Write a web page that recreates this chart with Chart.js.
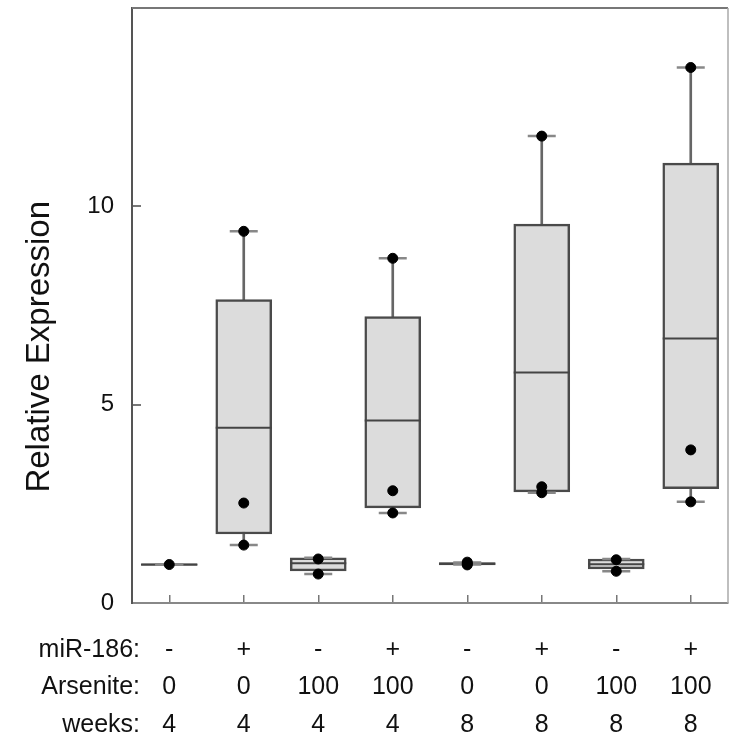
<!DOCTYPE html>
<html>
<head>
<meta charset="utf-8">
<script src="https://cdn.jsdelivr.net/npm/chart.js@4"></script>
<style>
  html, body { margin: 0; padding: 0; background: #fff; }
  #wrap { width: 737px; height: 750px; }
</style>
</head>
<body>
<div id="wrap"><canvas id="boxChart" width="737" height="750"></canvas></div>
<script>
// Relative expression box plots, 8 treatment groups
const miR186 = ['-', '+', '-', '+', '-', '+', '-', '+'];
const arsenite = ['0', '0', '100', '100', '0', '0', '100', '100'];
const weeks = ['4', '4', '4', '4', '8', '8', '8', '8'];
const rowHeaders = ['miR-186:', 'Arsenite:', 'weeks:'];
const yTicks = [0, 5, 10];

// box statistics
const q1 = [0.95, 1.74, 0.81, 2.40, 0.96, 2.80, 0.86, 2.88];
const q3 = [0.99, 7.65, 1.14, 7.22, 1.02, 9.55, 1.11, 11.09];
const median = [0.97, 4.42, 1.00, 4.60, 0.99, 5.81, 0.98, 6.67];
const whiskerLow = [0.97, 1.46, 0.73, 2.27, 0.97, 2.78, 0.80, 2.55];
const whiskerHigh = [0.97, 9.37, 1.14, 8.69, 1.02, 11.77, 1.11, 13.50];

// individual samples (black dots)
const pointsHigh = [0.97, 9.37, 1.11, 8.69, 1.03, 11.77, 1.09, 13.50];
const pointsMid = [null, 2.52, null, 2.83, 0.99, 2.93, null, 3.86];
const pointsLow = [null, 1.46, 0.73, 2.27, 0.96, 2.78, 0.80, 2.55];

const labels = miR186.map((m, i) => [m, arsenite[i], weeks[i]]);
const font = "'Liberation Sans', Arial, Helvetica, sans-serif";

// top/right frame lines and the row headers under the axis
const extras = {
  id: 'extras',
  afterDraw(chart) {
    const { ctx, chartArea: a } = chart;
    const x = chart.scales.x;
    ctx.save();
    ctx.lineWidth = 2;
    ctx.strokeStyle = '#777';
    ctx.beginPath();
    ctx.moveTo(a.left, a.top);
    ctx.lineTo(a.right, a.top);
    ctx.stroke();
    ctx.strokeStyle = '#aaa';
    ctx.lineWidth = 1.5;
    ctx.beginPath();
    ctx.moveTo(a.right, a.top);
    ctx.lineTo(a.right, a.bottom);
    ctx.stroke();
    ctx.fillStyle = '#111';
    ctx.font = '25px ' + font;
    ctx.textAlign = 'right';
    ctx.textBaseline = 'middle';
    rowHeaders.forEach((h, i) => {
      ctx.fillText(h, 140, x.top + 47 + i * 37.5);
    });
    ctx.restore();
  }
};

// drop the label overhang padding chart.js adds around the axes
const noPad = axis => {
  axis.paddingTop = 0;
  axis.paddingBottom = 0;
  axis.paddingLeft = 0;
  axis.paddingRight = 0;
};

const pointDs = (data, order) => ({
  type: 'line',
  data: data,
  showLine: false,
  pointStyle: 'circle',
  pointRadius: 5,
  pointBackgroundColor: '#000',
  pointBorderColor: '#000',
  order: order
});

const lineMark = (data, radius, color, width, order) => ({
  type: 'line',
  data: data,
  showLine: false,
  pointStyle: 'line',
  pointRadius: radius,
  pointBorderColor: color,
  pointBorderWidth: width,
  order: order
});

new Chart(document.getElementById('boxChart'), {
  type: 'bar',
  data: {
    labels: labels,
    datasets: [
      {
        type: 'bar',
        data: whiskerLow.map((l, i) => [l, whiskerHigh[i]]),
        backgroundColor: '#666',
        barThickness: 2,
        grouped: false,
        order: 9
      },
      {
        type: 'bar',
        data: q1.map((l, i) => [l, q3[i]]),
        backgroundColor: '#dcdcdc',
        borderColor: '#4a4a4a',
        borderWidth: 2.5,
        borderSkipped: false,
        barThickness: 56,
        grouped: false,
        order: 8
      },
      lineMark(median, 28, '#444', 2, 7),
      lineMark(whiskerHigh, 14, '#888', 2.5, 6),
      lineMark(whiskerLow, 14, '#888', 2.5, 5),
      pointDs(pointsHigh, 3),
      pointDs(pointsMid, 2),
      pointDs(pointsLow, 1)
    ]
  },
  options: {
    responsive: false,
    animation: false,
    events: [],
    layout: { autoPadding: false, padding: { top: 8, right: 9, left: 0, bottom: 0 } },
    plugins: {
      legend: { display: false },
      tooltip: { enabled: false }
    },
    scales: {
      x: {
        type: 'category',
        offset: true,
        grid: {
          offset: false,
          drawOnChartArea: false,
          drawTicks: true,
          tickLength: -8,
          color: '#777',
          lineWidth: 1.5
        },
        border: { display: true, color: '#888', width: 2 },
        ticks: {
          color: '#111',
          padding: 36,
          maxRotation: 0,
          autoSkip: false,
          font: { family: font, size: 25, lineHeight: 1.5 }
        },
        afterFit: axis => { axis.height = 147; noPad(axis); }
      },
      y: {
        min: 0,
        max: 15,
        afterBuildTicks: axis => { axis.ticks = yTicks.map(v => ({ value: v })); },
        grid: {
          drawOnChartArea: false,
          drawTicks: true,
          tickLength: -9,
          color: '#777',
          lineWidth: 2
        },
        border: { display: true, color: '#555', width: 2 },
        ticks: {
          color: '#111',
          padding: 27,
          font: { family: font, size: 24 }
        },
        title: {
          display: true,
          text: 'Relative Expression' + '\u00a0'.repeat(9),
          color: '#111',
          padding: { top: 20, bottom: 0 },
          font: { family: font, size: 33 }
        },
        afterFit: axis => { axis.width = 132; noPad(axis); }
      }
    }
  },
  plugins: [extras]
});
</script>
</body>
</html>
